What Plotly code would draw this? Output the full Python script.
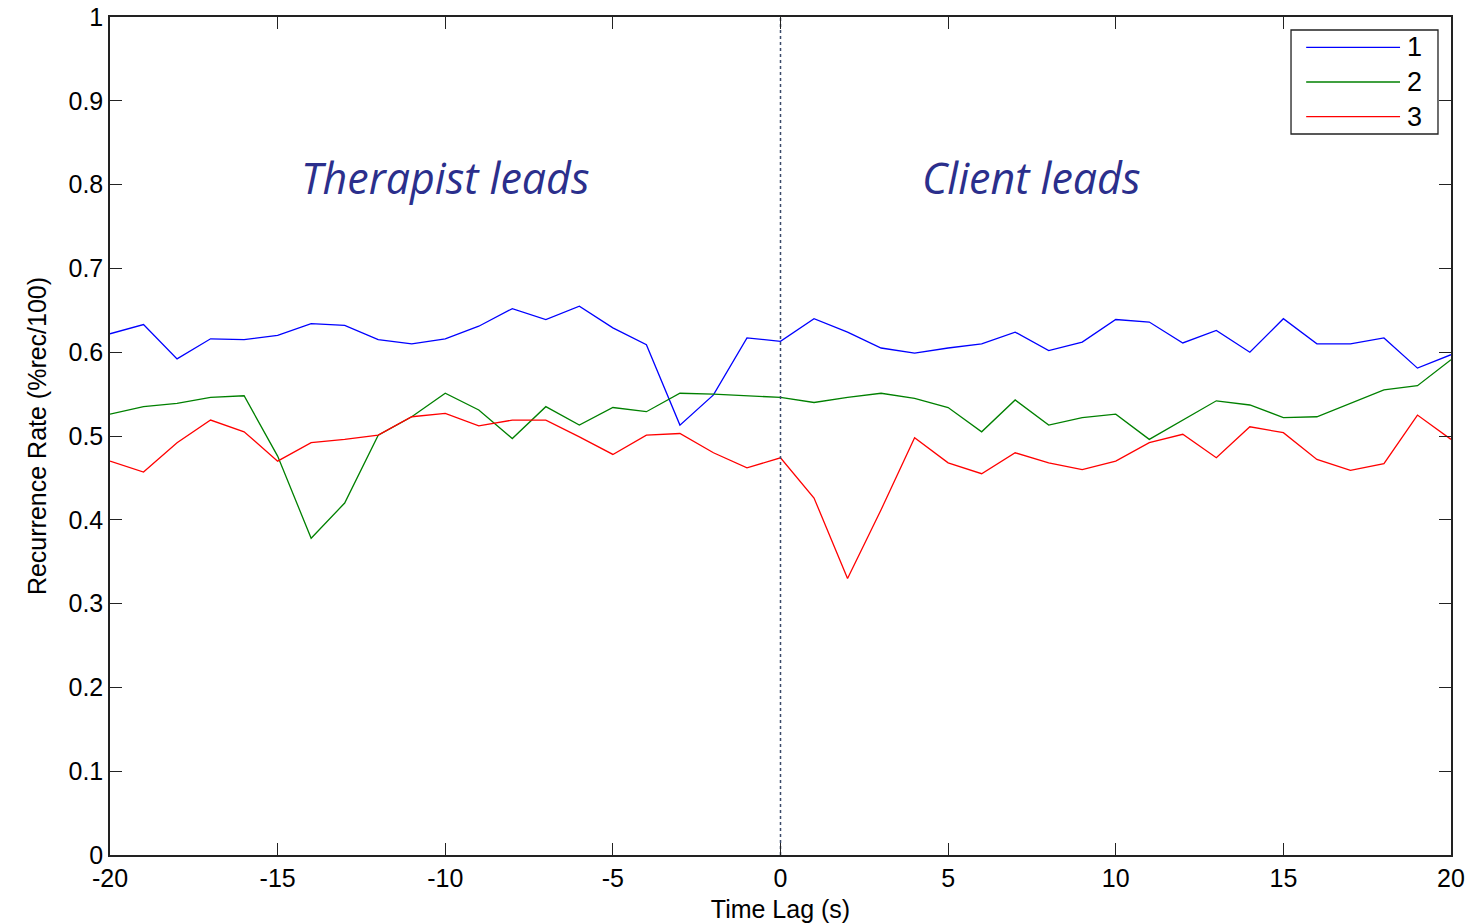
import plotly.graph_objects as go

lags = list(range(-20, 21))

series_names = ["1", "2", "3"]
series_colors = ["#0000FF", "#008000", "#FF0000"]

rate_1 = [0.622, 0.633, 0.592, 0.616, 0.615, 0.620, 0.634, 0.632, 0.615, 0.610,
          0.616, 0.631, 0.652, 0.639, 0.655, 0.629, 0.609, 0.513, 0.549, 0.617,
          0.613, 0.640, 0.624, 0.605, 0.599, 0.605, 0.610, 0.624, 0.602, 0.612,
          0.639, 0.636, 0.611, 0.626, 0.600, 0.640, 0.610, 0.610, 0.617, 0.581,
          0.597]
rate_2 = [0.526, 0.535, 0.539, 0.546, 0.548, 0.476, 0.378, 0.420, 0.501, 0.523,
          0.551, 0.531, 0.497, 0.535, 0.513, 0.534, 0.529, 0.551, 0.550, 0.548,
          0.546, 0.540, 0.546, 0.551, 0.545, 0.534, 0.505, 0.543, 0.513, 0.522,
          0.526, 0.496, 0.519, 0.542, 0.537, 0.522, 0.523, 0.539, 0.555, 0.560,
          0.591]
rate_3 = [0.470, 0.457, 0.492, 0.519, 0.505, 0.470, 0.492, 0.496, 0.501, 0.523,
          0.527, 0.512, 0.519, 0.519, 0.499, 0.478, 0.501, 0.503, 0.480, 0.462,
          0.474, 0.426, 0.330, 0.412, 0.498, 0.468, 0.455, 0.480, 0.468, 0.460,
          0.470, 0.492, 0.502, 0.474, 0.511, 0.504, 0.472, 0.459, 0.467, 0.525,
          0.496]
all_rates = [rate_1, rate_2, rate_3]

x_ticks = [-20, -15, -10, -5, 0, 5, 10, 15, 20]
y_ticks = [0, 0.1, 0.2, 0.3, 0.4, 0.5, 0.6, 0.7, 0.8, 0.9, 1]
y_tick_text = ["0", "0.1", "0.2", "0.3", "0.4", "0.5", "0.6", "0.7", "0.8", "0.9", "1"]

region_labels = ["Therapist leads", "Client leads"]
region_x = [-10, 7.5]
region_y = [0.808, 0.808]

fig = go.Figure()
for name, color, vals in zip(series_names, series_colors, all_rates):
    fig.add_trace(go.Scatter(x=lags, y=vals, mode="lines", name=name,
                             line=dict(color=color, width=1.3), showlegend=False))

# zero-lag reference line
fig.add_trace(go.Scatter(x=[0, 0], y=[0, 1], mode="lines", showlegend=False,
                         line=dict(color="#3A4A6A", width=1.5, dash="dot")))

axis_common = dict(showgrid=False, zeroline=False, showline=True, linecolor="#222222",
                   linewidth=1.5, mirror="ticks", ticks="inside", ticklen=12,
                   tickcolor="#222222", tickwidth=1.3, automargin=False,
                   tickfont=dict(family="Liberation Sans, Arial", size=25, color="black"))

fig.update_xaxes(range=[-20, 20], tickvals=x_ticks, ticktext=[str(v) for v in x_ticks],
                 title=dict(text="Time Lag (s)",
                            font=dict(family="Liberation Sans, Arial", size=25, color="black")),
                 **axis_common)
fig.update_yaxes(range=[0, 1], tickvals=y_ticks, ticktext=y_tick_text,
                 title=dict(text="Recurrence Rate (%rec/100)",
                            font=dict(family="Liberation Sans, Arial", size=25, color="black")),
                 **axis_common)

for txt, xx, yy in zip(region_labels, region_x, region_y):
    fig.add_annotation(x=xx, y=yy, text=f"<i>{txt}</i>", showarrow=False,
                       font=dict(family="Open Sans", size=43, color="#2B2F8C"))

# legend box (MATLAB style)
lx0, lx1 = 0.8807, 0.9903
ly_top, ly_bot = 0.9845, 0.8604
fig.add_shape(type="rect", xref="paper", yref="paper", x0=lx0, x1=lx1, y0=ly_bot, y1=ly_top,
              line=dict(color="#222222", width=1.3), fillcolor="white", layer="above")
n = len(series_names)
for i, (name, color) in enumerate(zip(series_names, series_colors)):
    yy = ly_top - (i + 0.5) * (ly_top - ly_bot) / n
    fig.add_shape(type="line", xref="paper", yref="paper", x0=0.892, x1=0.962,
                  y0=yy, y1=yy, line=dict(color=color, width=1.3), layer="above")
    fig.add_annotation(xref="paper", yref="paper", x=0.966, y=yy, text=name,
                       showarrow=False, xanchor="left", yanchor="middle",
                       font=dict(family="Liberation Sans, Arial", size=27, color="black"))

fig.update_layout(width=1472, height=923, plot_bgcolor="white", paper_bgcolor="white",
                  margin=dict(l=110, r=21, t=17, b=68, autoexpand=False), showlegend=False)

fig.write_html("out.html", config={"displayModeBar": False},
               post_script="document.body.style.margin='0px';")
